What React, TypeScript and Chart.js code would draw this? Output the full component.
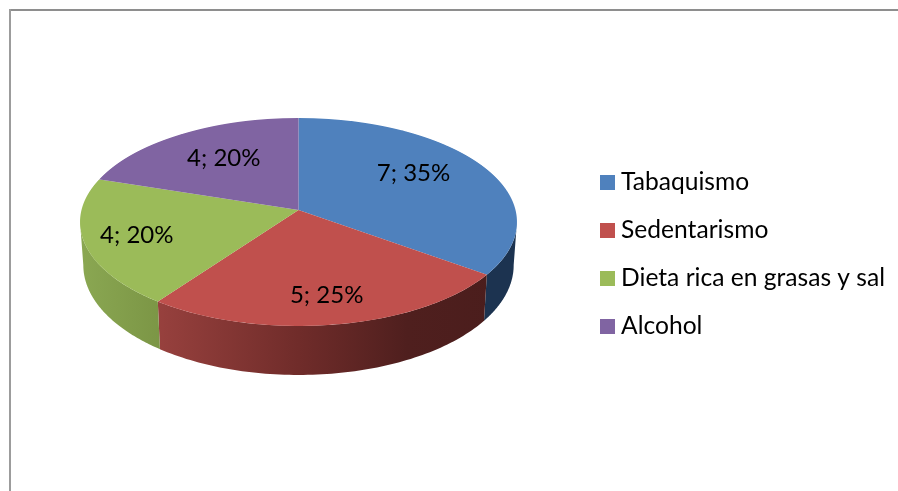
import React, { useEffect, useRef } from "react";
import { Chart, registerables } from "chart.js";

Chart.register(...registerables);

const categories = ["Tabaquismo", "Sedentarismo", "Dieta rica en grasas y sal", "Alcohol"];
const values = [7, 5, 4, 4];
const percents = [35, 25, 20, 20];
const topColors = ["#4f81bd", "#c0504d", "#9bbb59", "#8064a2"];
const wallStops: [number, string][][] = [
  [[0, "#1c3350"], [1, "#1c3350"]],
  [[0.17, "#98413e"], [0.5, "#702c2a"], [0.75, "#4f1f1e"], [1, "#4a1d1c"]],
  [[0, "#8aa752"], [0.2, "#7a9444"]],
  [[0, "#5a4674"], [1, "#5a4674"]],
];
const labelRadius = [0.67, 0.77, 0.76, 0.65];
const labelAngleShift = [-7, 0, 0, 2];

const FONT = "Lato";
const VIEW = { cx: 298.5, cy: 210, a: 217, b: 102.6, k: 0.1154 };

function project(theta: number) {
  const u = Math.sin(theta);
  const v = -Math.cos(theta);
  const d = 1 - VIEW.k * v;
  return { x: VIEW.cx + (VIEW.a * u) / d, y: VIEW.cy + (VIEW.b * v) / d };
}

function projectLow(theta: number) {
  const p = project(theta);
  return {
    x: VIEW.cx + (p.x - VIEW.cx) * 0.985,
    y: VIEW.cy + (p.y - VIEW.cy) * 1.056 + 42.5,
  };
}

const pie3d = {
  id: "pie3d",
  beforeDraw(chart: any) {
    const ctx = chart.ctx;
    ctx.save();
    ctx.fillStyle = "#8e8e8e";
    ctx.fillRect(9, 9, chart.width - 9, 2);
    ctx.fillStyle = "#9c9c9c";
    ctx.fillRect(9, 9, 2, chart.height - 9);
    ctx.restore();
  },
  beforeDatasetsDraw(chart: any) {
    const ctx = chart.ctx;
    const arcs = chart.getDatasetMeta(0).data;
    const ax = arcs[0].x;
    const ay = arcs[0].y;
    const r = arcs[0].outerRadius;

    // side walls
    const visLo = (96.6 * Math.PI) / 180;
    const visHi = (263.4 * Math.PI) / 180;
    arcs.forEach((arc: any, i: number) => {
      const s = Math.max(arc.startAngle + Math.PI / 2, visLo);
      const e = Math.min(arc.endAngle + Math.PI / 2, visHi);
      if (e <= s) return;
      const g = ctx.createLinearGradient(VIEW.cx - VIEW.a, 0, VIEW.cx + VIEW.a, 0);
      wallStops[i].forEach(([o, c]) => g.addColorStop(o, c));
      ctx.beginPath();
      const n = 80;
      for (let t = 0; t <= n; t++) {
        const p = project(s + ((e - s) * t) / n);
        t === 0 ? ctx.moveTo(p.x, p.y) : ctx.lineTo(p.x, p.y);
      }
      for (let t = n; t >= 0; t--) {
        const p = projectLow(s + ((e - s) * t) / n);
        ctx.lineTo(p.x, p.y);
      }
      ctx.closePath();
      ctx.fillStyle = g;
      ctx.fill();
    });

    // top face: library arcs, warped into perspective one pixel row at a time
    const top = Math.floor(project(Math.PI * 2).y) - 2;
    const bottom = Math.ceil(project(Math.PI).y) + 2;
    for (let y = top; y < bottom; y++) {
      const yc = y + 0.5;
      const w = yc - VIEW.cy;
      const v = w / (VIEW.b + VIEW.k * w);
      const d = 1 - VIEW.k * v;
      const sx = VIEW.a / d / r;
      const sy = VIEW.b / (d * d) / r;
      ctx.save();
      ctx.beginPath();
      ctx.rect(0, y, chart.width, 1);
      ctx.clip();
      ctx.transform(sx, 0, 0, sy, VIEW.cx - sx * ax, yc - sy * (ay + v * r));
      arcs.forEach((arc: any) => arc.draw(ctx));
      ctx.restore();
    }

    // value labels
    ctx.save();
    ctx.fillStyle = "#000";
    ctx.font = `24px ${FONT}`;
    ctx.textAlign = "center";
    ctx.textBaseline = "middle";
    arcs.forEach((arc: any, i: number) => {
      const mid = (arc.startAngle + arc.endAngle) / 2 + Math.PI / 2 + (labelAngleShift[i] * Math.PI) / 180;
      const u = Math.sin(mid) * labelRadius[i];
      const v = -Math.cos(mid) * labelRadius[i];
      const d = 1 - VIEW.k * v;
      ctx.fillText(
        `${values[i]}; ${percents[i]}%`,
        VIEW.cx - 0.5 + (VIEW.a * u) / d,
        VIEW.cy + (VIEW.b * v) / d
      );
    });
    ctx.restore();
    return false;
  },
};

function swatch(color: string) {
  const c = document.createElement("canvas");
  c.width = 15;
  c.height = 15;
  const g = c.getContext("2d")!;
  g.fillStyle = color;
  g.fillRect(0, 0, 15, 15);
  return c;
}

export default function App() {
  const ref = useRef<HTMLCanvasElement>(null);
  useEffect(() => {
    document.body.style.margin = "0";
    const chart = new Chart(ref.current!, {
      type: "pie",
      data: {
        labels: categories,
        datasets: [{ data: values, backgroundColor: topColors, borderWidth: 0 }],
      },
      plugins: [pie3d],
      options: {
        responsive: false,
        animation: false,
        layout: { padding: { top: 18, right: 3 } },
        plugins: {
          tooltip: { enabled: false },
          legend: {
            position: "right",
            labels: {
              usePointStyle: true,
              pointStyleWidth: 2,
              boxHeight: 15,
              padding: 23.4,
              color: "#000",
              font: { family: FONT, size: 24.6, lineHeight: 1.2 },
              generateLabels: () =>
                categories.map((text, i) => ({
                  text,
                  fillStyle: topColors[i],
                  strokeStyle: topColors[i],
                  lineWidth: 0,
                  pointStyle: swatch(topColors[i]),
                  index: i,
                  hidden: false,
                })),
            },
          },
        },
      },
    } as any);
    return () => chart.destroy();
  }, []);
  return <canvas ref={ref} width={898} height={491} style={{ display: "block" }} />;
}
